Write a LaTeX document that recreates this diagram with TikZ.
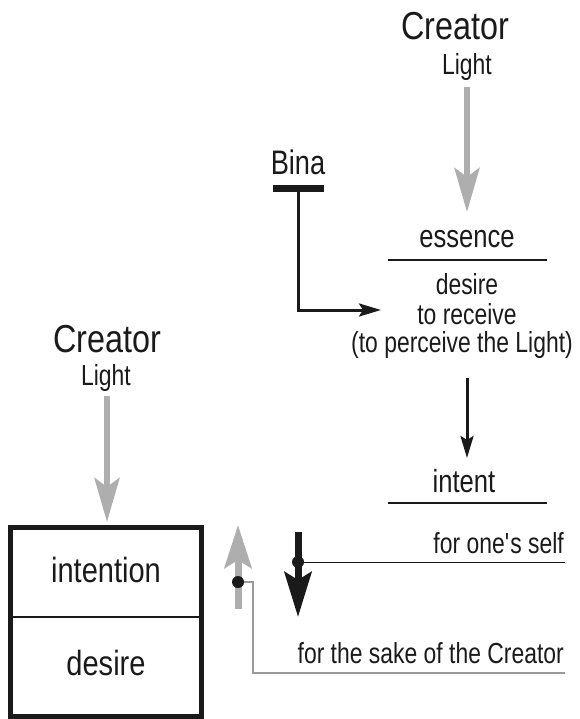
\documentclass[tikz,border=0pt]{standalone}
\usepackage{fontspec}
\setmainfont{Liberation Sans}[FakeStretch=0.83]
\newfontfamily\smallfam{Liberation Sans}[FakeStretch=0.79]
\newfontfamily\headfam{Liberation Sans}[FakeStretch=0.80]
\newfontfamily\boxfam{Liberation Sans}[FakeStretch=0.83]
\usetikzlibrary{arrows.meta}
\definecolor{lightgrey}{HTML}{AEAEAE}
\definecolor{wiregrey}{HTML}{9A9A9A}
\definecolor{ink}{HTML}{1A1A1A}
\begin{document}
\begin{tikzpicture}[x=1pt,y=-1pt,
  lbl/.style={inner sep=0pt, anchor=base, text=ink},
  creator/.style={lbl, font=\fontsize{39}{40}\selectfont},
  small/.style={lbl, font=\smallfam\fontsize{29}{30}\selectfont},
  head/.style={lbl, font=\headfam\fontsize{32}{33}\selectfont},
  boxtext/.style={lbl, font=\boxfam\fontsize{35}{36}\selectfont},
  greyarrow/.style={draw=lightgrey, line width=6, -{Stealth[length=44, width=25, inset=9]}},
  blackarrow/.style={draw=ink, line width=3, -{Stealth[length=22, width=13, inset=4]}},
  rule/.style={draw=ink, line width=2},
  wire/.style={draw=ink, line width=1},
  greywire/.style={draw=wiregrey, line width=1.5},
  dot/.style={fill=ink}
]
\useasboundingbox (0,0) rectangle (579,719);

% top right
\node[creator] (creatorR) at (455,40) {Creator};
\node[small] (lightR) at (467,75) {Light};
\coordinate (lightRbot) at (467,87);
\coordinate (essTop) at (467,212);
\draw[greyarrow] (lightRbot) -- (essTop);

% Bina
\node[lbl, font=\headfam\fontsize{34}{34}\selectfont] (bina) at (298,175) {Bina};
\coordinate (barL) at (273,188.5);
\coordinate (barR) at (324,188.5);
\coordinate (barM) at (298,188.5);
\draw[ink, line width=7] (barL) -- (barR);
\coordinate (recv) at (381,310);
\draw[blackarrow] (barM) |- (recv);

% essence
\node[head] (essence) at (467,247) {essence};
\coordinate (essL) at (388,260);
\coordinate (essR) at (547,260);
\draw[rule] (essL) -- (essR);
\node[small] (d1) at (467,294) {desire};
\node[small] (d2) at (467,324) {to receive};
\node[small] (d3) at (462,352) {(to perceive the Light)};
\coordinate (a1) at (467,378);
\coordinate (a2) at (467,458);
\draw[blackarrow] (a1) -- (a2);

% intent
\node[head] (intent) at (464,492) {intent};
\coordinate (intL) at (388,503);
\coordinate (intR) at (547,503);
\draw[rule] (intL) -- (intR);

\node[small, anchor=base east] (self) at (564,553) {for one\textquotesingle s self};
\node[small, anchor=base east] (sake) at (564,663) {for the sake of the Creator};

% for one's self connector
\coordinate (dotS) at (298,562);
\coordinate (selfEnd) at (565,562);
\draw[wire] (dotS) -- (selfEnd);
\coordinate (dnTop) at (298,532);
\coordinate (dnTip) at (298,617);
\draw[draw=ink, line width=7, -{Stealth[length=45, width=27, inset=8]}] (dnTop) -- (dnTip);
\fill[dot] (dotS) circle[radius=6];

% for the sake connector
\coordinate (dotC) at (238,582);
\coordinate (bendA) at (253,582);
\coordinate (bendB) at (253,673);
\coordinate (sakeEnd) at (565,673);
\draw[greywire] (dotC) -- (bendA) -- (bendB) -- (sakeEnd);
\coordinate (upBot) at (238,609);
\coordinate (upTip) at (238,525);
\draw[draw=lightgrey, line width=7, -{Stealth[length=43, width=27, inset=8]}] (upBot) -- (upTip);
\fill[dot] (dotC) circle[radius=6];

% left creator
\node[creator] (creatorL) at (107,352) {Creator};
\node[small] (lightL) at (106,385) {Light};
\coordinate (lightLbot) at (107,396);
\coordinate (boxTop) at (107,522);
\draw[greyarrow] (lightLbot) -- (boxTop);

% box
\draw[ink, line width=5] (10.5,527.5) rectangle (201.5,716);
\coordinate (divL) at (10.5,617);
\coordinate (divR) at (201.5,617);
\draw[rule] (divL) -- (divR);
\node[boxtext] (intention) at (106,582) {intention};
\node[boxtext] (desire) at (106,675) {desire};
\end{tikzpicture}
\end{document}
